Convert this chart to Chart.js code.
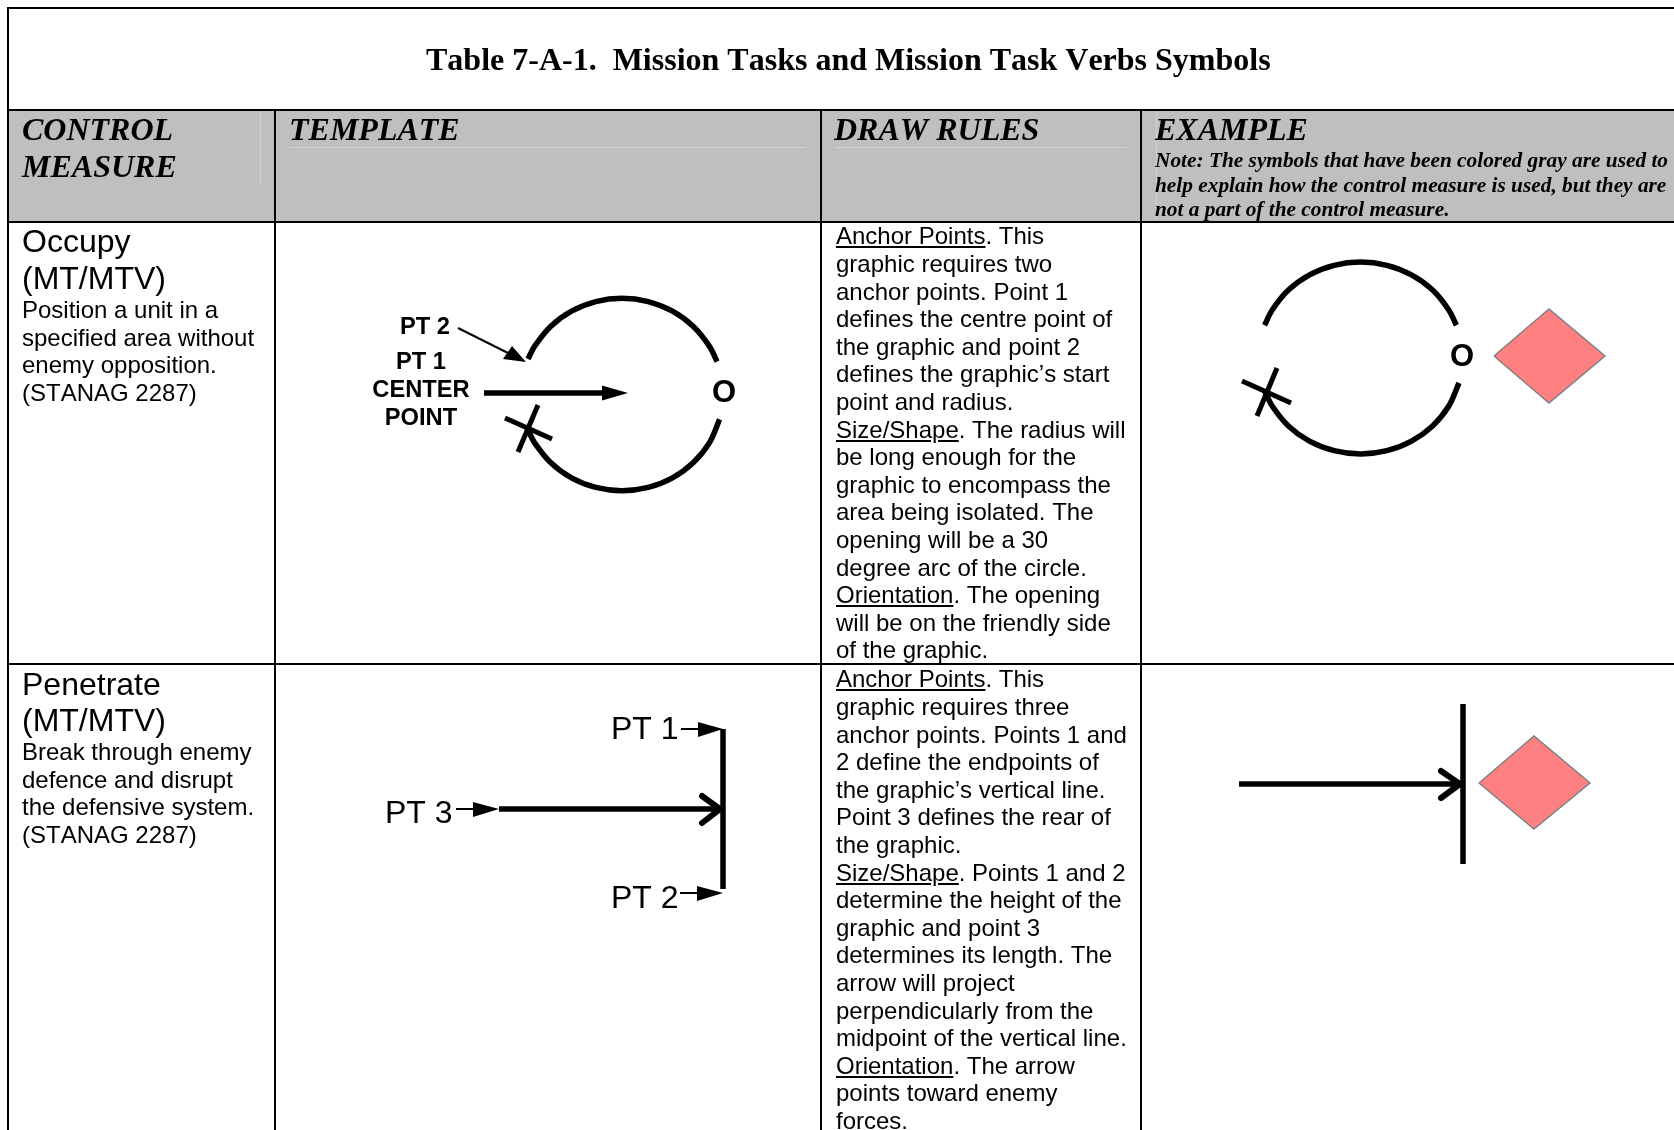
<!DOCTYPE html>
<html>
<head>
<meta charset="utf-8">
<title>Table 7-A-1</title>
<script src="https://cdn.jsdelivr.net/npm/chart.js@4"></script>
<style>
  html, body { margin: 0; padding: 0; background: #fff; overflow: hidden; }
  #page { position: relative; width: 1674px; height: 1130px; overflow: hidden; font-kerning: none; }
  #page div { position: absolute; white-space: pre; color: #000; }
  canvas { position: absolute; left: 0; top: 0; }
  .rule { background: #000; }
  .shade { background: #bfbfbf; }
  .faint { background: #d2d2d2; }
  .serif { font-family: "Liberation Serif", serif; font-weight: bold; }
  .head { font-style: italic; font-size: 32px; line-height: 36.8px; }
  .note { font-style: italic; font-size: 21.33px; line-height: 24.5px; }
  .sans { font-family: "Liberation Sans", sans-serif; }
  .big { font-size: 32px; line-height: 36.8px; }
  .body { font-size: 24px; line-height: 27.6px; }
  .lbl { font-size: 23.7px; line-height: 27px; font-weight: bold; text-align: center; }
  .pt { font-size: 32px; line-height: 34px; }
  .oh { font-size: 31px; line-height: 30px; font-weight: bold; }
</style>
</head>
<body>
<div id="page">
  <div class="shade" style="left:9px;top:111px;width:1665px;height:110px"></div>
  <div class="faint" style="left:260px;top:112px;width:1px;height:72px"></div>
  <div class="faint" style="left:289px;top:147px;width:517px;height:1px"></div>
  <div class="faint" style="left:835px;top:147px;width:292px;height:1px"></div>
  <div class="faint" style="left:1156px;top:112px;width:1px;height:108px"></div>

  <div class="rule" style="left:7px;top:7px;width:1667px;height:2px"></div>
  <div class="rule" style="left:7px;top:109px;width:1667px;height:2px"></div>
  <div class="rule" style="left:7px;top:221px;width:1667px;height:2px"></div>
  <div class="rule" style="left:7px;top:663px;width:1667px;height:2px"></div>
  <div class="rule" style="left:7px;top:7px;width:2px;height:1123px"></div>
  <div class="rule" style="left:274px;top:110px;width:2px;height:1020px"></div>
  <div class="rule" style="left:820px;top:110px;width:2px;height:1020px"></div>
  <div class="rule" style="left:1140px;top:110px;width:2px;height:1020px"></div>

  <canvas id="symbols" width="1674" height="1130"></canvas>

  <div class="serif" style="left:426px;top:41px;font-size:32px;line-height:37px">Table 7-A-1.  Mission Tasks and Mission Task Verbs Symbols</div>
  <div class="serif head" style="left:22px;top:111px">CONTROL
MEASURE</div>
  <div class="serif head" style="left:289px;top:111px">TEMPLATE</div>
  <div class="serif head" style="left:834px;top:111px">DRAW RULES</div>
  <div class="serif head" style="left:1155px;top:111px">EXAMPLE</div>
  <div class="serif note" style="left:1155px;top:148px">Note: The symbols that have been colored gray are used to
help explain how the control measure is used, but they are
not a part of the control measure.</div>

  <div class="sans big" style="left:22px;top:223px">Occupy
(MT/MTV)</div>
  <div class="sans body" style="left:22px;top:296px">Position a unit in a
specified area without
enemy opposition.
(STANAG 2287)</div>
  <div class="sans body" style="left:836px;top:222.4px"><u>Anchor Points</u>. This
graphic requires two
anchor points. Point 1
defines the centre point of
the graphic and point 2
defines the graphic’s start
point and radius.
<u>Size/Shape</u>. The radius will
be long enough for the
graphic to encompass the
area being isolated. The
opening will be a 30
degree arc of the circle.
<u>Orientation</u>. The opening
will be on the friendly side
of the graphic.</div>

  <div class="sans big" style="left:22px;top:665.5px">Penetrate
(MT/MTV)</div>
  <div class="sans body" style="left:22px;top:738px">Break through enemy
defence and disrupt
the defensive system.
(STANAG 2287)</div>
  <div class="sans body" style="left:836px;top:665.4px"><u>Anchor Points</u>. This
graphic requires three
anchor points. Points 1 and
2 define the endpoints of
the graphic’s vertical line.
Point 3 defines the rear of
the graphic.
<u>Size/Shape</u>. Points 1 and 2
determine the height of the
graphic and point 3
determines its length. The
arrow will project
perpendicularly from the
midpoint of the vertical line.
<u>Orientation</u>. The arrow
points toward enemy
forces.</div>

  <div class="sans lbl" style="left:350px;top:313px;width:100px;text-align:right">PT 2</div>
  <div class="sans lbl" style="left:371px;top:348px;width:100px">PT 1</div>
  <div class="sans lbl" style="left:371px;top:376px;width:100px">CENTER</div>
  <div class="sans lbl" style="left:371px;top:404px;width:100px">POINT</div>
  <div class="sans oh" style="left:712px;top:377px">O</div>
  <div class="sans oh" style="left:1450px;top:341px">O</div>
  <div class="sans pt" style="left:611px;top:711px">PT 1</div>
  <div class="sans pt" style="left:385px;top:795px">PT 3</div>
  <div class="sans pt" style="left:611px;top:880px">PT 2</div>
</div>

<script>
// Occupy template in page units
const occupyTopX = [528, 534.5, 550.6, 571.5, 595.8, 622, 648.2, 672.5, 693.4, 709.5, 717];
const occupyTopY = [359, 346.4, 326.5, 311.2, 301.6, 298.3, 301.6, 311.2, 326.5, 346.4, 361.6];
const occupyBottomX = [719.6, 709.5, 693.4, 672.5, 648.2, 622, 595.8, 571.5, 550.6, 534.5, 528];
const occupyBottomY = [419.4, 442.6, 462.5, 477.8, 487.4, 490.7, 487.4, 477.8, 462.5, 442.6, 430];
const occupyCross1X = [505, 552];
const occupyCross1Y = [418, 439];
const occupyCross2X = [538, 518];
const occupyCross2Y = [405, 452];
const centerArrowX = [484, 603];
const centerArrowY = [393, 393];
const centerHeadX = [602, 628, 602];
const centerHeadY = [385.5, 393, 400.5];
const pt2LeaderX = [458, 510];
const pt2LeaderY = [328, 354];
const pt2HeadX = [512, 526, 503];
const pt2HeadY = [346, 362, 359];

// Occupy example
const exOccupyTopX = [1264.6, 1272.2, 1288.4, 1309.5, 1334.1, 1360.5, 1386.9, 1411.5, 1432.6, 1448.8, 1456.4];
const exOccupyTopY = [325.2, 310, 290.1, 274.9, 265.3, 262, 265.3, 274.9, 290.1, 310, 325.2];
const exOccupyBottomX = [1459, 1448.8, 1432.6, 1411.5, 1386.9, 1360.5, 1334.1, 1309.5, 1288.4, 1272.2, 1264.6];
const exOccupyBottomY = [382.9, 406, 425.9, 441.1, 450.7, 454, 450.7, 441.1, 425.9, 406, 390.8];
const exCross1X = [1242, 1291];
const exCross1Y = [381, 403];
const exCross2X = [1277, 1257];
const exCross2Y = [368, 416];
const exDiamond1X = [1494, 1549, 1605, 1549, 1494];
const exDiamond1Y = [356, 309, 356, 403, 356];

// Penetrate template
const penBarX = [723, 723];
const penBarY = [729, 889];
const penShaftX = [499, 720];
const penShaftY = [809, 809];
const penChevronX = [702, 720, 702];
const penChevronY = [796, 809, 823];
const pt1LeadX = [681, 698];
const pt1LeadY = [729, 729];
const pt1HeadX = [698, 723, 698];
const pt1HeadY = [722, 729, 737];
const pt3LeadX = [456, 473];
const pt3LeadY = [809, 809];
const pt3HeadX = [473, 499, 473];
const pt3HeadY = [802, 809, 817];
const pt2bLeadX = [680, 697];
const pt2bLeadY = [893, 893];
const pt2bHeadX = [697, 723, 697];
const pt2bHeadY = [886, 893, 901];

// Penetrate example
const exBarX = [1463, 1463];
const exBarY = [704, 864];
const exShaftX = [1239, 1460];
const exShaftY = [784, 784];
const exChevronX = [1441, 1460, 1441];
const exChevronY = [771, 784, 798];
const exDiamond2X = [1479, 1534, 1590, 1534, 1479];
const exDiamond2Y = [783, 736, 783, 829, 783];

function toPoints(xs, ys) {
  return xs.map((x, i) => ({ x: x, y: ys[i] }));
}

function stroke(xs, ys, width, extra) {
  return Object.assign({
    data: toPoints(xs, ys),
    showLine: true,
    borderColor: "#000",
    borderWidth: width,
    pointRadius: 0,
    fill: false,
    clip: false,
  }, extra || {});
}

function arc(xs, ys) {
  return stroke(xs, ys, 5.5, { tension: 0.33 });
}

function head(xs, ys) {
  return stroke(xs, ys, 0, { fill: "shape", backgroundColor: "#000" });
}

function diamond(xs, ys) {
  return stroke(xs, ys, 1.5, { fill: "shape", backgroundColor: "#ff8080", borderColor: "#808080" });
}

function chevron(xs, ys) {
  return stroke(xs, ys, 6, { borderCapStyle: "round", borderJoinStyle: "miter" });
}

new Chart(document.getElementById("symbols"), {
  type: "scatter",
  data: {
    datasets: [
      arc(occupyTopX, occupyTopY),
      arc(occupyBottomX, occupyBottomY),
      stroke(occupyCross1X, occupyCross1Y, 5),
      stroke(occupyCross2X, occupyCross2Y, 5),
      stroke(centerArrowX, centerArrowY, 5.5),
      head(centerHeadX, centerHeadY),
      stroke(pt2LeaderX, pt2LeaderY, 2),
      head(pt2HeadX, pt2HeadY),

      arc(exOccupyTopX, exOccupyTopY),
      arc(exOccupyBottomX, exOccupyBottomY),
      stroke(exCross1X, exCross1Y, 5),
      stroke(exCross2X, exCross2Y, 5),
      diamond(exDiamond1X, exDiamond1Y),

      stroke(penBarX, penBarY, 5.5),
      stroke(penShaftX, penShaftY, 5.5),
      chevron(penChevronX, penChevronY),
      stroke(pt1LeadX, pt1LeadY, 2),
      head(pt1HeadX, pt1HeadY),
      stroke(pt3LeadX, pt3LeadY, 2),
      head(pt3HeadX, pt3HeadY),
      stroke(pt2bLeadX, pt2bLeadY, 2),
      head(pt2bHeadX, pt2bHeadY),

      stroke(exBarX, exBarY, 5.5),
      stroke(exShaftX, exShaftY, 5.5),
      chevron(exChevronX, exChevronY),
      diamond(exDiamond2X, exDiamond2Y),
    ],
  },
  options: {
    responsive: false,
    animation: false,
    events: [],
    layout: { padding: 0 },
    plugins: { legend: { display: false }, tooltip: { enabled: false } },
    scales: {
      x: { type: "linear", min: 0, max: 1674, display: false },
      y: { type: "linear", min: 0, max: 1130, reverse: true, display: false },
    },
  },
});
</script>
</body>
</html>
